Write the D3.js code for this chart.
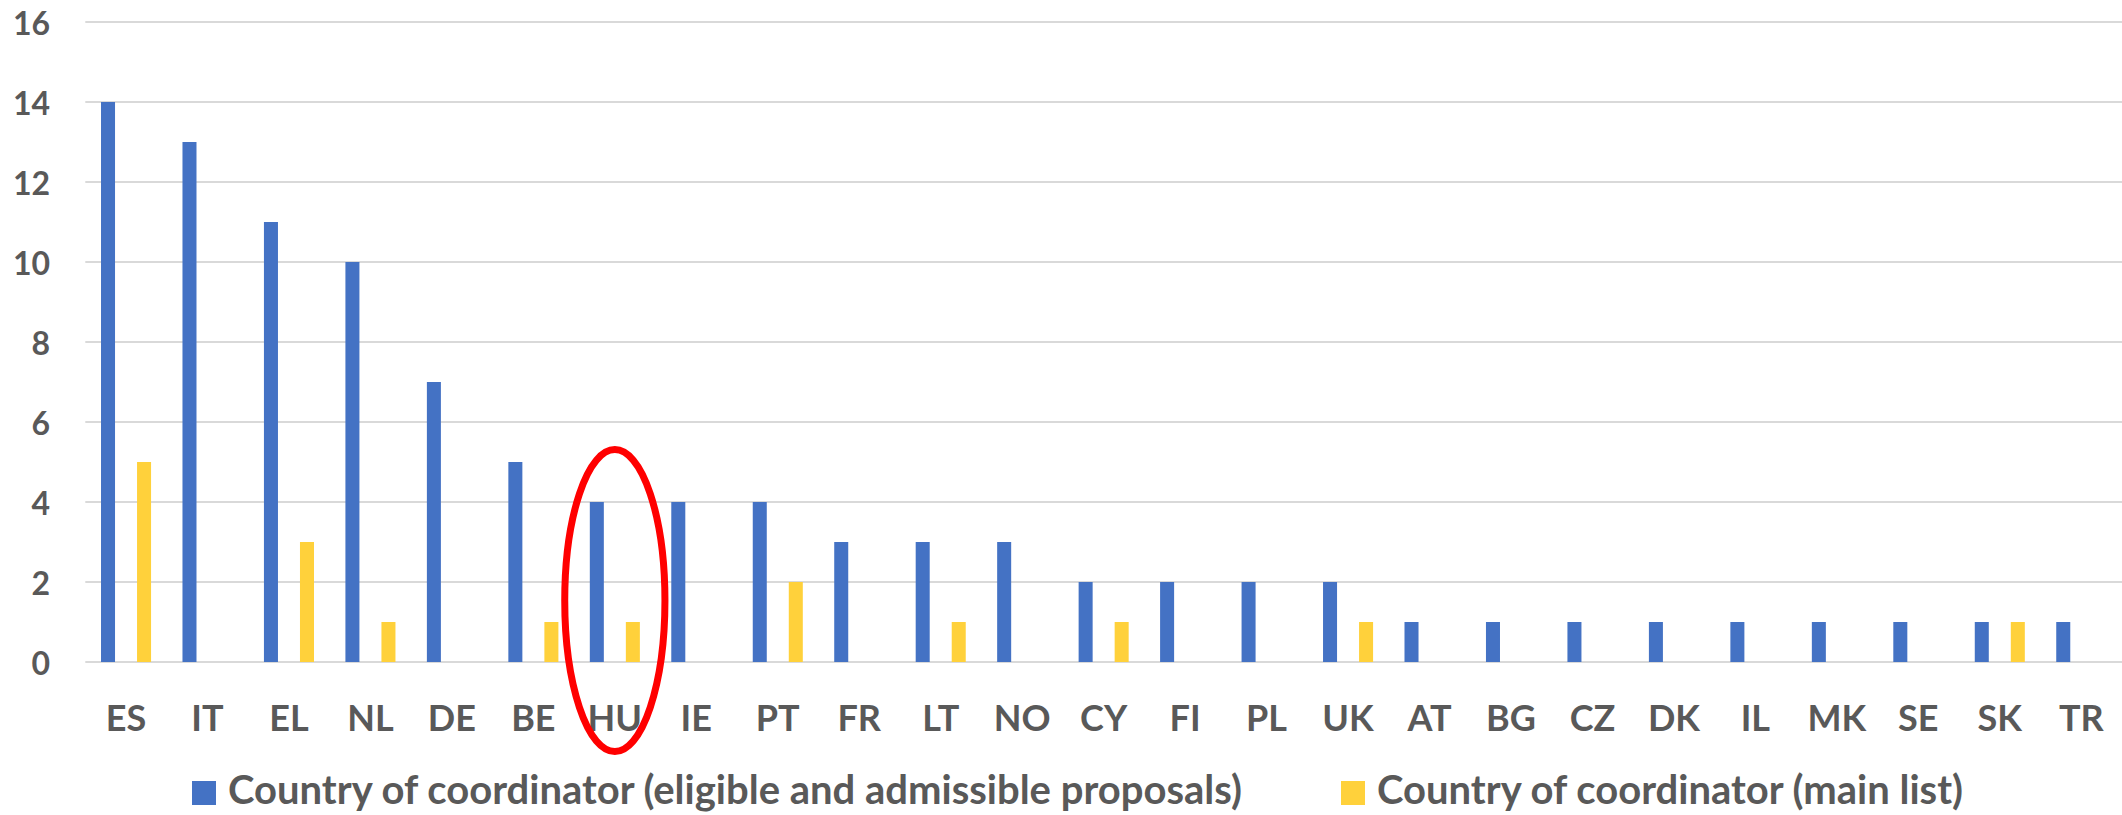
<!DOCTYPE html>
<html>
<head>
<meta charset="utf-8">
<script src="https://cdn.jsdelivr.net/npm/d3@7"></script>
<style>
  html, body { margin: 0; padding: 0; background: #fff; }
  svg { display: block; }
  text { font-family: Lato, "Open Sans", sans-serif; font-weight: bold; fill: #595959; }
</style>
</head>
<body>
<svg id="chart" width="2122" height="815"></svg>
<script>
const categories = ["ES","IT","EL","NL","DE","BE","HU","IE","PT","FR","LT","NO","CY","FI","PL","UK","AT","BG","CZ","DK","IL","MK","SE","SK","TR"];
const eligibleValues = [14,13,11,10,7,5,4,4,4,3,3,3,2,2,2,2,1,1,1,1,1,1,1,1,1];
const mainListValues = [5,0,3,1,0,1,1,0,2,0,1,0,1,0,0,1,0,0,0,0,0,0,0,1,0];
const seriesNames = ["Country of coordinator (eligible and admissible proposals)", "Country of coordinator (main list)"];
const yTicks = [0,2,4,6,8,10,12,14,16];
const highlight = { category: "HU", yFrom: -2.24, yTo: 5.31 };

const colors = ["#4472C4", "#FFD13B"];
const W = 2122, H = 815;
const plot = { left: 85.3, right: 2122, top: 22, bottom: 662 };

const svg = d3.select("#chart");

const x = d3.scaleBand().domain(categories).range([plot.left, plot.right]).paddingInner(0).paddingOuter(0);
const xs = d3.scaleBand().domain([0, 1]).range([0, x.bandwidth()]).paddingInner(0.611).paddingOuter(0.436);
const y = d3.scaleLinear().domain([0, 16]).range([plot.bottom, plot.top]);

// gridlines
svg.append("g").selectAll("line").data(yTicks).join("line")
  .attr("x1", plot.left).attr("x2", plot.right)
  .attr("y1", d => y(d)).attr("y2", d => y(d))
  .attr("stroke", "#D9D9D9").attr("stroke-width", 2);

// y axis labels
svg.append("g").selectAll("text").data(yTicks).join("text")
  .attr("x", 50).attr("y", d => y(d))
  .attr("text-anchor", "end").attr("dominant-baseline", "central")
  .style("font-size", "32px")
  .text(d => d);

// bars
const series = [eligibleValues, mainListValues];
series.forEach((vals, si) => {
  svg.append("g").selectAll("rect").data(categories).join("rect")
    .attr("x", (c) => x(c) + xs(si))
    .attr("width", xs.bandwidth())
    .attr("y", (c, i) => y(vals[i]))
    .attr("height", (c, i) => y(0) - y(vals[i]))
    .attr("fill", colors[si]);
});

// x labels
svg.append("g").selectAll("text").data(categories).join("text")
  .attr("x", c => x(c) + x.bandwidth() / 2)
  .attr("y", 731)
  .attr("text-anchor", "middle")
  .style("font-size", "36px")
  .text(c => c);

// highlight ellipse
const cyTop = y(highlight.yTo), cyBot = y(highlight.yFrom);
svg.append("ellipse")
  .attr("cx", x(highlight.category) + x.bandwidth() / 2)
  .attr("cy", (cyTop + cyBot) / 2)
  .attr("rx", x.bandwidth() * 0.615)
  .attr("ry", (cyBot - cyTop) / 2)
  .attr("fill", "none")
  .attr("stroke", "#FF0000")
  .attr("stroke-width", 7);

// legend
const legendX = [192, 1341];
seriesNames.forEach((name, i) => {
  const g = svg.append("g").attr("transform", `translate(${legendX[i]},0)`);
  g.append("rect").attr("x", 0).attr("y", 781).attr("width", 24).attr("height", 24).attr("fill", colors[i]);
  g.append("text").attr("x", 36).attr("y", 804).style("font-size", "40px").text(name);
});
</script>
</body>
</html>
